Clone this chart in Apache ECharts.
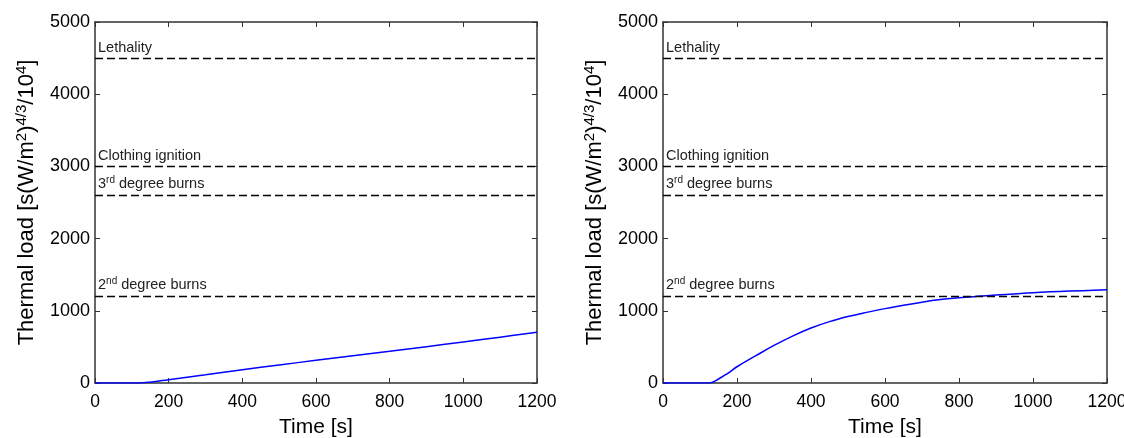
<!DOCTYPE html>
<html><head><meta charset="utf-8">
<script src="https://cdn.jsdelivr.net/npm/echarts@6/dist/echarts.min.js"></script>
<style>html,body{margin:0;padding:0;background:#fff}#c{width:1124px;height:438px}</style>
</head><body><div id="c"></div>
<script>
const xTicks = [0, 200, 400, 600, 800, 1000, 1200];
const yTicks = [0, 1000, 2000, 3000, 4000, 5000];
const timesLeft = [0, 50, 100, 118, 150, 200, 300, 400, 500, 600, 700, 800, 900, 1000, 1100, 1200];
const loadLeft  = [0, 0, 0, 0, 12, 46, 115, 185, 250, 314, 377, 439, 503, 568, 635, 702];
const timesRight = [0, 50, 100, 124, 150, 175, 200, 250, 300, 350, 400, 450, 500, 550, 600, 650, 700, 750, 800, 850, 900, 1000, 1100, 1200];
const loadRight  = [0, 0, 0, 0, 55, 135, 225, 375, 520, 650, 762, 850, 920, 978, 1030, 1078, 1120, 1155, 1180, 1200, 1218, 1250, 1273, 1290];
const thresholdNames = ['Lethality', 'Clothing ignition', '3{sup|rd} degree burns', '2{sup|nd} degree burns'];
const thresholdValues = [4500, 3000, 2600, 1200];

const FONT = 'Liberation Sans, Arial, sans-serif';
const grids = [
  {left: 95, top: 22, width: 442, height: 361, outerBoundsMode: 'none', containLabel: false},
  {left: 663, top: 22, width: 444, height: 361, outerBoundsMode: 'none', containLabel: false}
];
const axisLineStyle = {color: '#333', width: 1.5};
function xAxes(i) {
  return [{
    type: 'value', gridIndex: i, min: xTicks[0], max: xTicks[xTicks.length - 1], interval: xTicks[1] - xTicks[0],
    name: 'Time [s]', nameLocation: 'middle', nameGap: 34,
    nameTextStyle: {fontFamily: FONT, fontSize: 21, color: '#000'},
    axisLine: {onZero: false, lineStyle: axisLineStyle},
    axisTick: {inside: true, length: 5, lineStyle: {color: '#333'}},
    axisLabel: {fontFamily: FONT, fontSize: 17.5, color: '#000', margin: 10, formatter: v => String(v)},
    splitLine: {show: false}
  }, {
    type: 'value', gridIndex: i, position: 'top', min: xTicks[0], max: xTicks[xTicks.length - 1], interval: xTicks[1] - xTicks[0],
    axisLine: {onZero: false, lineStyle: axisLineStyle},
    axisTick: {inside: true, length: 5, lineStyle: {color: '#333'}},
    axisLabel: {show: false}, splitLine: {show: false}
  }];
}
function yAxes(i) {
  return [{
    type: 'value', gridIndex: i, min: yTicks[0], max: yTicks[yTicks.length - 1], interval: yTicks[1] - yTicks[0],
    name: 'Thermal load [s(W/m{sup|2}){sup|4/3}/10{sup|4}]',
    nameLocation: 'middle', nameGap: 56, nameRotate: 90,
    nameTextStyle: {fontFamily: FONT, fontSize: 22, color: '#000',
      rich: {sup: {fontFamily: FONT, fontSize: 15, color: '#000', verticalAlign: 'top', padding: [0,0,10,0]}}},
    axisLine: {onZero: false, lineStyle: axisLineStyle},
    axisTick: {inside: true, length: 5, lineStyle: {color: '#333'}},
    axisLabel: {fontFamily: FONT, fontSize: 18, color: '#000', margin: 5, formatter: v => String(v)},
    splitLine: {show: false}
  }, {
    type: 'value', gridIndex: i, position: 'right', min: yTicks[0], max: yTicks[yTicks.length - 1], interval: yTicks[1] - yTicks[0],
    axisLine: {onZero: false, lineStyle: axisLineStyle},
    axisTick: {inside: true, length: 5, lineStyle: {color: '#333'}},
    axisLabel: {show: false}, splitLine: {show: false}
  }];
}
function markLines() {
  return {
    silent: true, symbol: 'none', animation: false,
    lineStyle: {color: '#000', type: [8, 4], width: 1.3},
    label: {position: 'insideStartTop', distance: [3, 3], fontFamily: FONT, fontSize: 14.5, color: '#222',
      rich: {sup: {fontFamily: FONT, fontSize: 10, color: '#222', verticalAlign: 'top', padding: [0,0,7,0]}}},
    data: thresholdValues.map((v, k) => ({yAxis: v, label: {formatter: thresholdNames[k]}}))
  };
}
function series(i, t, v) {
  return {
    type: 'line', xAxisIndex: i * 2, yAxisIndex: i * 2,
    data: t.map((x, k) => [x, v[k]]), smooth: 0.4, showSymbol: false,
    lineStyle: {color: '#0000ff', width: 1.5}, z: 3,
    markLine: markLines()
  };
}
const chart = echarts.init(document.getElementById('c'));
chart.setOption({
  animation: false,
  grid: grids,
  xAxis: [...xAxes(0), ...xAxes(1)],
  yAxis: [...yAxes(0), ...yAxes(1)],
  series: [series(0, timesLeft, loadLeft), series(1, timesRight, loadRight)]
});
</script></body></html>
